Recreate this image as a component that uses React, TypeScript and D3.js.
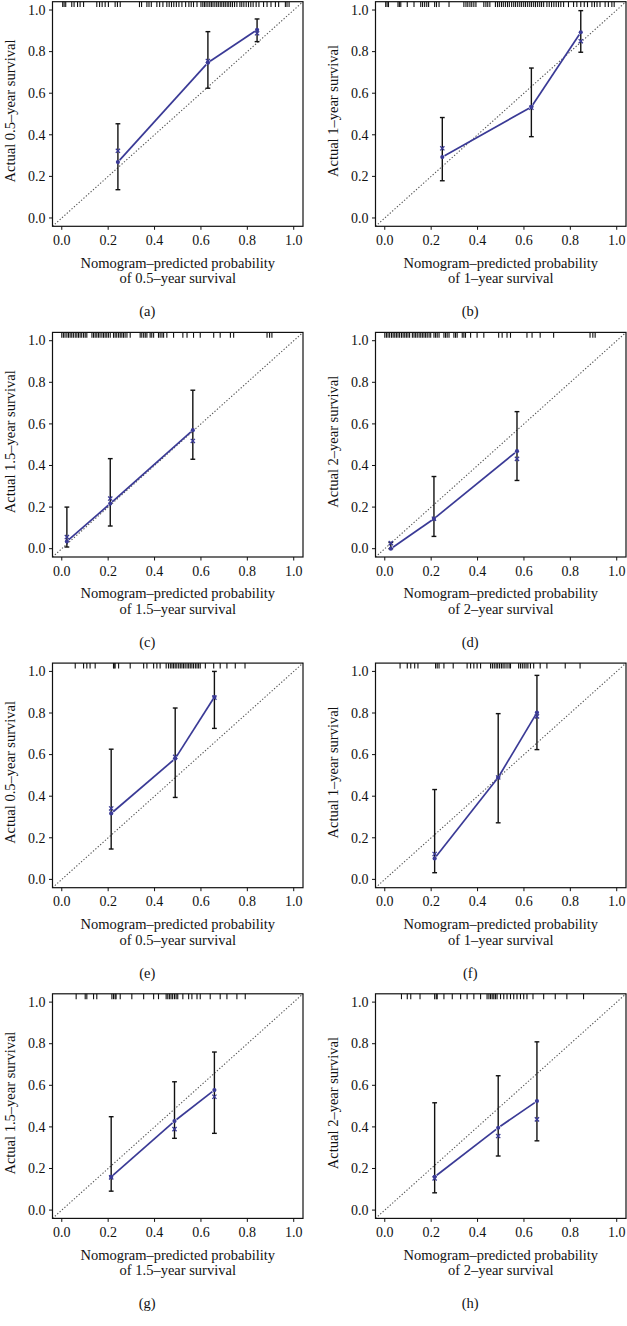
import React from "react";
import * as d3 from "d3";

// ---------- data ----------
const PANEL_TAGS = ["(a)", "(b)", "(c)", "(d)", "(e)", "(f)", "(g)", "(h)"];
const YEAR_LABELS = ["0.5", "1", "1.5", "2", "0.5", "1", "1.5", "2"];
const TICKS = [0, 0.2, 0.4, 0.6, 0.8, 1.0];

// mean nomogram-predicted probability per group
const PREDICTED = [
  [0.242, 0.63, 0.842],
  [0.248, 0.632, 0.845],
  [0.022, 0.209, 0.565],
  [0.026, 0.212, 0.57],
  [0.213, 0.489, 0.658],
  [0.215, 0.489, 0.656],
  [0.213, 0.486, 0.658],
  [0.215, 0.489, 0.656],
];
// observed (Kaplan-Meier) survival
const OBSERVED = [
  [0.269, 0.747, 0.905],
  [0.293, 0.534, 0.893],
  [0.035, 0.217, 0.57],
  [0.0, 0.144, 0.469],
  [0.317, 0.581, 0.877],
  [0.101, 0.49, 0.802],
  [0.16, 0.428, 0.577],
  [0.16, 0.396, 0.524],
];
// bias-corrected estimates
const CORRECTED = [
  [0.323, 0.755, 0.888],
  [0.335, 0.53, 0.85],
  [0.056, 0.241, 0.518],
  [0.027, 0.144, 0.432],
  [0.341, 0.589, 0.874],
  [0.122, 0.49, 0.784],
  [0.157, 0.389, 0.545],
  [0.152, 0.356, 0.436],
];
const CI_LOWER = [
  [0.136, 0.624, 0.848],
  [0.179, 0.391, 0.797],
  [0.008, 0.109, 0.43],
  [0.0, 0.059, 0.328],
  [0.146, 0.394, 0.726],
  [0.032, 0.272, 0.624],
  [0.091, 0.345, 0.369],
  [0.083, 0.26, 0.333],
];
const CI_UPPER = [
  [0.453, 0.896, 0.957],
  [0.483, 0.721, 0.997],
  [0.2, 0.433, 0.762],
  [0.03, 0.347, 0.659],
  [0.626, 0.824, 1.0],
  [0.432, 0.797, 0.981],
  [0.449, 0.617, 0.76],
  [0.516, 0.646, 0.809],
];

// rug of individual predicted probabilities
const RUG_A = [0.004, 0.01, 0.017, 0.043, 0.053, 0.068, 0.079, 0.094, 0.151, 0.163, 0.174, 0.187, 0.201, 0.23, 0.24, 0.252, 0.335, 0.344, 0.367, 0.376, 0.386, 0.41, 0.422, 0.436, 0.453, 0.463, 0.473, 0.483, 0.494, 0.505, 0.518, 0.534, 0.548, 0.558, 0.568, 0.583, 0.6, 0.608, 0.615, 0.622, 0.63, 0.638, 0.645, 0.652, 0.66, 0.668, 0.675, 0.683, 0.69, 0.698, 0.705, 0.713, 0.72, 0.728, 0.736, 0.745, 0.755, 0.768, 0.776, 0.785, 0.795, 0.805, 0.815, 0.825, 0.838, 0.85, 0.87, 0.885, 0.902, 0.921, 0.935, 0.964, 0.971, 0.98];
const RUG_B = [0.004, 0.01, 0.016, 0.057, 0.063, 0.069, 0.097, 0.126, 0.155, 0.163, 0.172, 0.181, 0.189, 0.215, 0.223, 0.234, 0.277, 0.341, 0.35, 0.358, 0.367, 0.375, 0.384, 0.393, 0.427, 0.436, 0.444, 0.453, 0.477, 0.486, 0.494, 0.503, 0.511, 0.52, 0.529, 0.537, 0.547, 0.556, 0.564, 0.573, 0.582, 0.59, 0.599, 0.607, 0.616, 0.625, 0.633, 0.642, 0.65, 0.659, 0.668, 0.676, 0.685, 0.699, 0.709, 0.719, 0.729, 0.739, 0.749, 0.759, 0.771, 0.792, 0.814, 0.828, 0.845, 0.86, 0.874, 0.893, 0.904, 0.915, 0.928, 0.95, 0.964, 0.979, 0.989];
const RUG_C = [0.0, 0.007, 0.014, 0.022, 0.029, 0.036, 0.043, 0.05, 0.058, 0.065, 0.072, 0.079, 0.086, 0.094, 0.101, 0.108, 0.13, 0.137, 0.144, 0.151, 0.158, 0.165, 0.173, 0.18, 0.187, 0.194, 0.201, 0.209, 0.223, 0.23, 0.237, 0.245, 0.252, 0.259, 0.266, 0.273, 0.281, 0.295, 0.338, 0.345, 0.353, 0.36, 0.367, 0.381, 0.388, 0.396, 0.417, 0.424, 0.432, 0.439, 0.453, 0.482, 0.522, 0.54, 0.568, 0.597, 0.655, 0.683, 0.727, 0.741, 0.885, 0.896, 0.906];
const RUG_D = [0.0, 0.007, 0.014, 0.021, 0.029, 0.036, 0.043, 0.05, 0.057, 0.064, 0.072, 0.079, 0.086, 0.093, 0.1, 0.107, 0.119, 0.126, 0.133, 0.14, 0.148, 0.155, 0.162, 0.169, 0.176, 0.183, 0.191, 0.198, 0.212, 0.219, 0.226, 0.234, 0.255, 0.262, 0.269, 0.277, 0.298, 0.305, 0.312, 0.334, 0.341, 0.348, 0.37, 0.398, 0.427, 0.491, 0.506, 0.527, 0.542, 0.613, 0.635, 0.67, 0.728, 0.885, 0.897, 0.907];
const RUG_E = [0.058, 0.094, 0.108, 0.122, 0.144, 0.223, 0.226, 0.23, 0.245, 0.295, 0.353, 0.367, 0.396, 0.41, 0.424, 0.45, 0.46, 0.468, 0.475, 0.482, 0.489, 0.496, 0.504, 0.511, 0.518, 0.525, 0.532, 0.54, 0.547, 0.554, 0.561, 0.568, 0.576, 0.583, 0.59, 0.597, 0.619, 0.655, 0.683, 0.712, 0.748, 0.79];
const RUG_F = [0.066, 0.097, 0.112, 0.129, 0.143, 0.219, 0.226, 0.234, 0.255, 0.295, 0.355, 0.37, 0.384, 0.398, 0.413, 0.456, 0.464, 0.472, 0.48, 0.487, 0.495, 0.503, 0.51, 0.518, 0.527, 0.536, 0.542, 0.577, 0.585, 0.593, 0.601, 0.609, 0.617, 0.628, 0.642, 0.67, 0.699, 0.778, 0.842];
const RUG_G = [0.062, 0.101, 0.108, 0.137, 0.151, 0.216, 0.223, 0.23, 0.234, 0.252, 0.302, 0.353, 0.396, 0.417, 0.45, 0.457, 0.464, 0.471, 0.478, 0.486, 0.493, 0.5, 0.522, 0.547, 0.561, 0.583, 0.597, 0.64, 0.683, 0.712, 0.755, 0.791];
const RUG_H = [0.072, 0.097, 0.112, 0.152, 0.215, 0.222, 0.226, 0.255, 0.291, 0.327, 0.355, 0.384, 0.413, 0.441, 0.449, 0.456, 0.463, 0.47, 0.477, 0.484, 0.499, 0.513, 0.527, 0.542, 0.556, 0.57, 0.585, 0.599, 0.613, 0.639, 0.685, 0.735, 0.785, 0.857];
const RUGS = [RUG_A, RUG_B, RUG_C, RUG_D, RUG_E, RUG_F, RUG_G, RUG_H];

// ---------- layout ----------
const FONT = "'Liberation Serif', 'DejaVu Serif', serif";
const INK = "#111";
const BLUE = "#3a3a96";
const COL_LEFT = [52.5, 375.5];
const BOX_W = 250.5;
const BOX_H = 224.6;
const ROW_TOP0 = 1.7;
const ROW_STEP = 330.7;
const fmt = d3.format(".1f");

function Panel({ i }: { i: number }) {
  const col = i % 2;
  const row = Math.floor(i / 2);
  const left = COL_LEFT[col];
  const top = ROW_TOP0 + row * ROW_STEP;
  const x = d3.scaleLinear().domain([-0.04, 1.04]).range([0, BOX_W]);
  const y = d3.scaleLinear().domain([-0.04, 1.04]).range([BOX_H, 0]);

  const px = PREDICTED[i];
  const obs = OBSERVED[i];
  const cor = CORRECTED[i];
  const lo = CI_LOWER[i];
  const hi = CI_UPPER[i];
  const pts = px.map((v, k) => [x(v), y(obs[k])] as [number, number]);

  const gap = 2.6;
  const line = d3.line();
  const segs: string[] = [];
  for (let k = 0; k < pts.length - 1; k++) {
    const [x1, y1] = pts[k];
    const [x2, y2] = pts[k + 1];
    const len = Math.hypot(x2 - x1, y2 - y1);
    if (len < gap * 2) continue;
    const ux = (x2 - x1) / len;
    const uy = (y2 - y1) / len;
    segs.push(
      line([
        [x1 + ux * gap, y1 + uy * gap],
        [x2 - ux * gap, y2 - uy * gap],
      ]) as string
    );
  }

  const year = YEAR_LABELS[i];
  const capW = 2.4;
  const xs = 2.1;

  return (
    <g transform={`translate(${left},${top})`}>
      {/* diagonal reference line */}
      <line
        x1={x(-0.04)}
        y1={y(-0.04)}
        x2={x(1.04)}
        y2={y(1.04)}
        stroke="#555"
        strokeWidth={1.1}
        strokeDasharray="1.3 1.9"
      />
      {/* rug */}
      {RUGS[i].map((v, k) => (
        <line key={k} x1={x(v)} x2={x(v)} y1={0} y2={5.4} stroke={INK} strokeWidth={1.1} />
      ))}
      {/* error bars */}
      {px.map((v, k) => (
        <g key={"e" + k} stroke={INK} strokeWidth={1.4}>
          <line x1={x(v)} x2={x(v)} y1={y(hi[k])} y2={y(lo[k])} />
          <line x1={x(v) - capW} x2={x(v) + capW} y1={y(hi[k])} y2={y(hi[k])} />
          <line x1={x(v) - capW} x2={x(v) + capW} y1={y(lo[k])} y2={y(lo[k])} />
        </g>
      ))}
      {/* calibration line */}
      {segs.map((d, k) => (
        <path key={"s" + k} d={d} fill="none" stroke={BLUE} strokeWidth={1.7} />
      ))}
      {/* observed points */}
      {pts.map(([cx, cy], k) => (
        <circle key={"p" + k} cx={cx} cy={cy} r={2.1} fill={BLUE} />
      ))}
      {/* bias-corrected marks */}
      {px.map((v, k) => {
        const cx = x(v);
        const cy = y(cor[k]);
        return (
          <g key={"c" + k} stroke={BLUE} strokeWidth={1.3}>
            <line x1={cx - xs} y1={cy - xs} x2={cx + xs} y2={cy + xs} />
            <line x1={cx - xs} y1={cy + xs} x2={cx + xs} y2={cy - xs} />
          </g>
        );
      })}
      {/* box */}
      <rect x={0} y={0} width={BOX_W} height={BOX_H} fill="none" stroke={INK} strokeWidth={1.2} />
      {/* x axis */}
      {TICKS.map((t) => (
        <g key={"xt" + t}>
          <line x1={x(t)} x2={x(t)} y1={BOX_H} y2={BOX_H + 3.5} stroke={INK} strokeWidth={1} />
          <text x={x(t)} y={BOX_H + 18.6} textAnchor="middle" fontFamily={FONT} fontSize={14} fill={INK}>
            {fmt(t)}
          </text>
        </g>
      ))}
      {/* y axis */}
      {TICKS.map((t) => (
        <g key={"yt" + t}>
          <line x1={-3.5} x2={0} y1={y(t)} y2={y(t)} stroke={INK} strokeWidth={1} />
          <text x={-7} y={y(t)} dy="0.34em" textAnchor="end" fontFamily={FONT} fontSize={14} fill={INK}>
            {fmt(t)}
          </text>
        </g>
      ))}
      <text
        transform={`translate(${-38},${BOX_H / 2 - 3}) rotate(-90)`}
        textAnchor="middle"
        fontFamily={FONT}
        fontSize={14.5}
        fill={INK}
      >
        {`Actual ${year}\u2013year survival`}
      </text>
      <text x={BOX_W / 2} y={BOX_H + 41.5} textAnchor="middle" fontFamily={FONT} fontSize={14.5} fill={INK}>
        {"Nomogram\u2013predicted probability"}
      </text>
      <text x={BOX_W / 2} y={BOX_H + 57} textAnchor="middle" fontFamily={FONT} fontSize={14.5} fill={INK}>
        {`of ${year}\u2013year survival`}
      </text>
      <text x={BOX_W / 2 - 30.5} y={BOX_H + 90} textAnchor="middle" fontFamily={FONT} fontSize={14.5} fill={INK}>
        {PANEL_TAGS[i]}
      </text>
    </g>
  );
}

export default function App() {
  return (
    <svg
      width={627}
      height={1326}
      viewBox="0 0 627 1326"
      style={{ position: "absolute", left: 0, top: 0, background: "#fff" }}
    >
      <rect width={627} height={1326} fill="#fff" />
      {PANEL_TAGS.map((_, i) => (
        <Panel key={i} i={i} />
      ))}
    </svg>
  );
}
